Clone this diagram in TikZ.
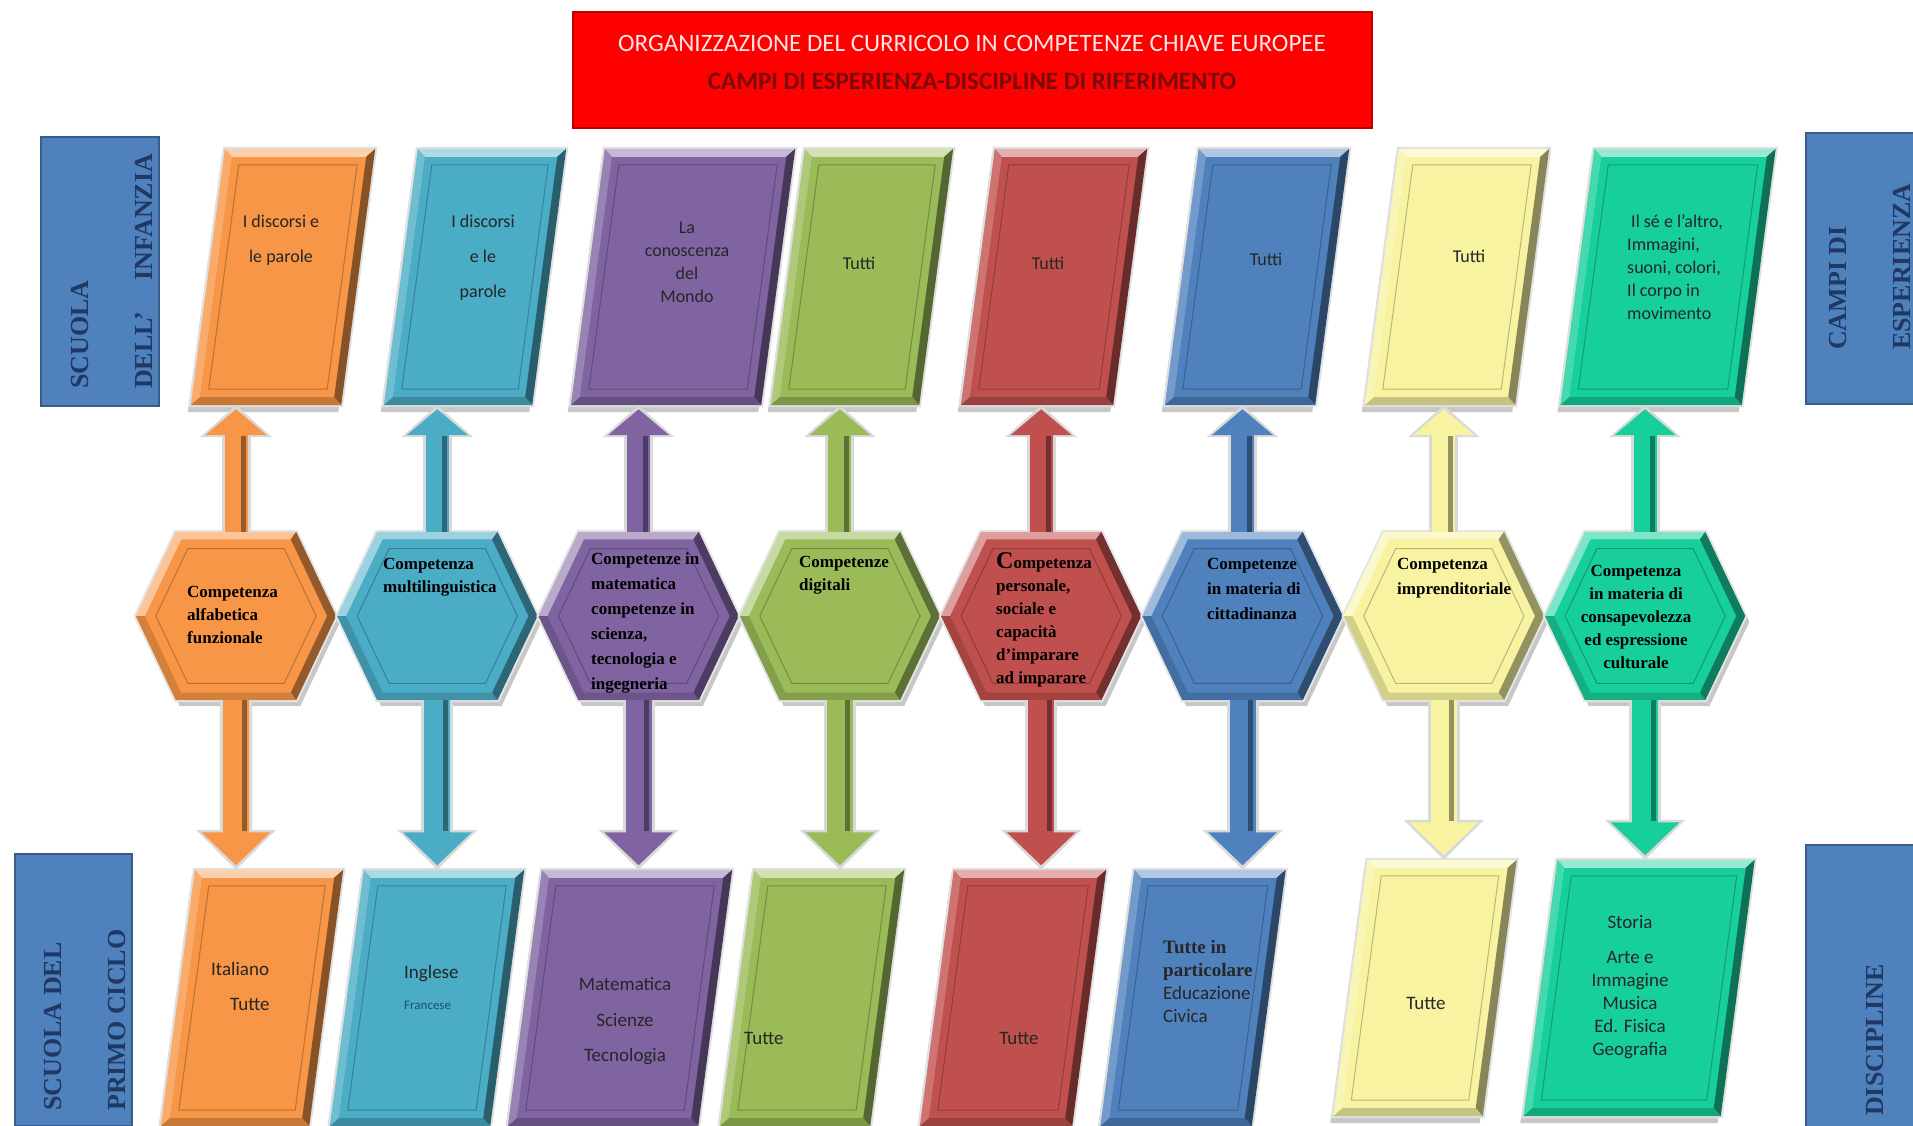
\documentclass[tikz,border=0pt]{standalone}
\usepackage{fontspec}
\setmainfont{Liberation Serif}
\newfontfamily\calibri{Carlito}
\usetikzlibrary{calc,arrows.meta,positioning}

\definecolor{arancio}{HTML}{F79646}
\definecolor{azzurro}{HTML}{4BACC6}
\definecolor{viola}{HTML}{8064A2}
\definecolor{verde}{HTML}{9BBB59}
\definecolor{rosso}{HTML}{C0504D}
\definecolor{blu}{HTML}{4F81BD}
\definecolor{giallo}{HTML}{F7F3A1}
\definecolor{smeraldo}{HTML}{17CF9B}
\definecolor{bordoblu}{HTML}{385D8A}
\definecolor{notte}{HTML}{1F3864}
\definecolor{rosa}{HTML}{FFE4E4}
\definecolor{granata}{HTML}{7A0A0A}
\definecolor{francese}{HTML}{1F4E79}

\def\shear{17}

\newcommand\campo[2]{%
  \coordinate (#1-a) at ($(#1.south west)+(-\shear,0)$);
  \coordinate (#1-b) at ($(#1.north west)+(\shear,0)$);
  \coordinate (#1-c) at ($(#1.north east)+(\shear,0)$);
  \coordinate (#1-d) at ($(#1.south east)+(-\shear,0)$);
  \fill[black!22] ([shift={(-3,7)}]#1-a) -- ([shift={(-3,7)}]#1-b) -- ([shift={(-3,7)}]#1-c) -- ([shift={(-3,7)}]#1-d) -- cycle;
  \filldraw[draw=black!12, line width=4pt, fill=#2] (#1-a) -- (#1-b) -- (#1-c) -- (#1-d) -- cycle;
  \fill[fill=#2!45!white] (#1-b) -- (#1-c) -- ([shift={(-9,8)}]#1-c) -- ([shift={(7,8)}]#1-b) -- cycle;
  \fill[fill=#2!80!white] (#1-a) -- (#1-b) -- ([shift={(7,8)}]#1-b) -- ([shift={(9,-8)}]#1-a) -- cycle;
  \fill[fill=#2!55!black] (#1-c) -- (#1-d) -- ([shift={(-7,-8)}]#1-d) -- ([shift={(-9,8)}]#1-c) -- cycle;
  \fill[fill=#2!80!black] (#1-a) -- (#1-d) -- ([shift={(-7,-8)}]#1-d) -- ([shift={(9,-8)}]#1-a) -- cycle;
  \draw[draw=#2!75!black, line width=1pt] ([shift={(18,-16)}]#1-a) -- ([shift={(14,16)}]#1-b) -- ([shift={(-18,16)}]#1-c) -- ([shift={(-14,-16)}]#1-d) -- cycle;
}

\newcommand\hexa[2]{%
  \coordinate (#1-1) at (#1.west);
  \coordinate (#1-2) at ($(#1.north west)+(40,0)$);
  \coordinate (#1-3) at ($(#1.north east)+(-40,0)$);
  \coordinate (#1-4) at (#1.east);
  \coordinate (#1-5) at ($(#1.south east)+(-40,0)$);
  \coordinate (#1-6) at ($(#1.south west)+(40,0)$);
  \foreach \k in {1,...,6}{
    \coordinate (#1-i\k) at ($(#1-\k)!0.09!(#1.center)$);
    \coordinate (#1-l\k) at ($(#1-\k)!0.2!(#1.center)$);
  }
  \fill[black!22] ([shift={(4,6)}]#1-1) -- ([shift={(4,6)}]#1-2) -- ([shift={(4,6)}]#1-3) -- ([shift={(4,6)}]#1-4) -- ([shift={(4,6)}]#1-5) -- ([shift={(4,6)}]#1-6) -- cycle;
  \filldraw[draw=black!10, line width=4pt, fill=#2] (#1-1) -- (#1-2) -- (#1-3) -- (#1-4) -- (#1-5) -- (#1-6) -- cycle;
  \fill[fill=#2!55!white] (#1-1) -- (#1-2) -- (#1-3) -- (#1-i3) -- (#1-i2) -- (#1-i1) -- cycle;
  \fill[fill=#2!60!black] (#1-3) -- (#1-4) -- (#1-5) -- (#1-i5) -- (#1-i4) -- (#1-i3) -- cycle;
  \fill[fill=#2!85!black] (#1-5) -- (#1-6) -- (#1-1) -- (#1-i1) -- (#1-i6) -- (#1-i5) -- cycle;
  \draw[draw=#2!75!black, line width=1pt] (#1-l1) -- (#1-l2) -- (#1-l3) -- (#1-l4) -- (#1-l5) -- (#1-l6) -- cycle;
}

\tikzset{
  riquadro/.style={rectangle, inner sep=0pt, minimum height=256},
  esagono/.style={rectangle, inner sep=0pt, minimum width=200, minimum height=168},
  etichetta/.style={rectangle, fill=blu, draw=bordoblu, line width=1.5pt},
  testoetichetta/.style={rotate=90, anchor=north west, align=left, inner sep=0pt, text=notte,
    font=\bfseries\fontsize{26}{64}\selectfont},
  titolo/.style={rectangle, fill=red, draw=red!75!black, line width=2pt, minimum width=799, minimum height=116},
  testotitolo/.style={align=center, inner sep=0pt, font=\calibri\fontsize{25}{38}\selectfont},
  testocampo/.style={inner sep=0pt, text=black!85, font=\calibri\fontsize{18}{23}\selectfont},
  testodisc/.style={inner sep=0pt, text=black!85, font=\calibri\fontsize{19}{23}\selectfont},
  testocomp/.style={inner sep=0pt, text=black, font=\bfseries\fontsize{17}{23}\selectfont},
  bordo su/.style={line width=29pt, draw=black!15, -{Triangle[length=32pt,width=70pt]}},
  corpo su/.style={line width=23pt, draw=#1, -{Triangle[length=26pt,width=60pt]}, shorten >=4pt},
  bordo giu/.style={line width=32pt, draw=black!15, -{Triangle[length=40pt,width=78pt]}},
  corpo giu/.style={line width=26pt, draw=#1, -{Triangle[length=33pt,width=67pt]}, shorten >=4.5pt},
}

\begin{document}
\begin{tikzpicture}[x=1pt,y=-1pt]
\useasboundingbox (0,0) rectangle (1913,1125);

\node[titolo] (titolo) at (972.5,70) {};
\node[testotitolo] (titolo-testo) at (972,62)
  {{\color{rosa}ORGANIZZAZIONE DEL CURRICOLO IN COMPETENZE CHIAVE EUROPEE}\\
   {\color{granata}\bfseries CAMPI DI ESPERIENZA-DISCIPLINE DI RIFERIMENTO}};

\node[etichetta, minimum width=118, minimum height=269] (infanzia) at (100,271.5) {};
\node[etichetta, minimum width=117, minimum height=272] (primo) at (73.5,990) {};
\node[etichetta, minimum width=124, minimum height=271] (campi) at (1868,268.5) {};
\node[etichetta, minimum width=124, minimum height=285] (discipline) at (1868,987.5) {};
\node[testoetichetta] (infanzia-testo) at (71.5,389) {SCUOLA\\DELL’\hspace{1.2em}INFANZIA};
\node[testoetichetta] (primo-testo) at (44.5,1111) {SCUOLA DEL\\PRIMO CICLO};
\node[testoetichetta] (campi-testo) at (1829.5,350) {CAMPI DI\\ESPERIENZA};
\node[testoetichetta] (discipline-testo) at (1866.5,1116) {DISCIPLINE};

\foreach \i/\x/\w/\col in {1/283/150/arancio,2/475/148/azzurro,3/683/190/viola,4/862/148/verde,
    5/1054/152/rosso,6/1257/150/blu,7/1457/150/giallo,8/1668/181/smeraldo}{
  \node[riquadro, minimum width=\w] (t\i) at (\x,277) {};
  \campo{t\i}{\col}
}

\foreach \i/\x/\y/\w/\col in {1/252/998/148/arancio,2/427/998/160/azzurro,3/620/998/190/viola,
    4/812/998/150/verde,5/1013/998/152/rosso,6/1193/998/151/blu,7/1425/988/149/giallo,8/1639/988/197/smeraldo}{
  \node[riquadro, minimum width=\w] (b\i) at (\x,\y) {};
  \campo{b\i}{\col}
}

\foreach \i/\col in {1/arancio,2/azzurro,3/viola,4/verde,5/rosso,6/blu,7/giallo,8/smeraldo}{
  \node[esagono] (h\i) at ({236+201.3*(\i-1)},616) {};
  \hexa{h\i}{\col}
}

\foreach \i/\col in {1/arancio,2/azzurro,3/viola,4/verde,5/rosso,6/blu,7/giallo,8/smeraldo}{
  \coordinate (u\i) at (h\i.north |- t\i.south);
  \coordinate (d\i) at (h\i.south |- b\i.north);
  \draw[bordo su] (h\i.north) -- (u\i);
  \draw[corpo su=\col] (h\i.north) -- (u\i);
  \draw[draw=\col!60!black, line width=5pt, shorten >=31pt] ([xshift=7pt]h\i.north) -- ([xshift=7pt]u\i);
  \draw[bordo giu] (h\i.south) -- (d\i);
  \draw[corpo giu=\col] (h\i.south) -- (d\i);
  \draw[draw=\col!60!black, line width=5pt, shorten >=39pt] ([xshift=8pt]h\i.south) -- ([xshift=8pt]d\i);
}

\def\campitesti{1/north/center/281/215/{I discorsi e\\[12pt]le parole},
  2/north/center/483/215/{I discorsi\\[12pt]e le\\[12pt]parole},
  3/north/center/687/222/{La\\conoscenza\\del\\Mondo},
  4/north/center/859/257/{Tutti},
  5/north/center/1048/257/{Tutti},
  6/north/center/1266/253/{Tutti},
  7/north/center/1469/250/{Tutti},
  8/north west/left/1627/215/{\hspace*{4pt}Il sé e l’altro,\\Immagini,\\suoni, colori,\\Il corpo in\\movimento}}
\foreach \i/\an/\al/\x/\y/\txt in \campitesti
  \node[testocampo, anchor=\an, align=\al] (t\i-testo) at (\x,\y) {\txt};

\def\comptesti{1/north west/left/187/586/{Competenza\\alfabetica\\funzionale},
  2/north west/left/383/558/{Competenza\\multilinguistica},
  3/north west/left/591/552/{Competenze in\\[2pt]matematica\\[2pt]competenze in\\[2pt]scienza,\\[2pt]tecnologia e\\[2pt]ingegneria},
  4/north west/left/799/556/{Competenze\\digitali},
  5/north west/left/996/552/{{\fontsize{24}{24}\selectfont C}ompetenza\\personale,\\sociale e\\capacità\\d’imparare\\ad imparare},
  6/north west/left/1207/558/{Competenze\\[2pt]in materia di\\[2pt]cittadinanza},
  7/north west/left/1397/558/{Competenza\\[2pt]imprenditoriale},
  8/north/center/1636/565/{Competenza\\in materia di\\consapevolezza\\ed espressione\\culturale}}
\foreach \i/\an/\al/\x/\y/\txt in \comptesti
  \node[testocomp, anchor=\an, align=\al] (h\i-testo) at (\x,\y) {\txt};

\def\disctesti{1/north west/left/211/962/{Italiano\\[12pt]\hspace*{19pt}Tutte},
  2/north west/left/404/965/{Inglese\\[8pt]{\fontsize{13}{13}\selectfont\color{francese}Francese}},
  3/north/center/625/977/{Matematica\\[13pt]Scienze\\[12pt]Tecnologia},
  4/north west/left/744/1032/{Tutte},
  5/north/center/1019/1032/{Tutte},
  6/north west/left/1163/940/{{\rmfamily\bfseries Tutte in}\\{\rmfamily\bfseries particolare}\\Educazione\\Civica},
  7/north/center/1426/997/{Tutte},
  8/north/center/1630/915/{Storia\\[12pt]Arte e\\Immagine\\Musica\\Ed. Fisica\\Geografia}}
\foreach \i/\an/\al/\x/\y/\txt in \disctesti
  \node[testodisc, anchor=\an, align=\al] (b\i-testo) at (\x,\y) {\txt};

\end{tikzpicture}
\end{document}
